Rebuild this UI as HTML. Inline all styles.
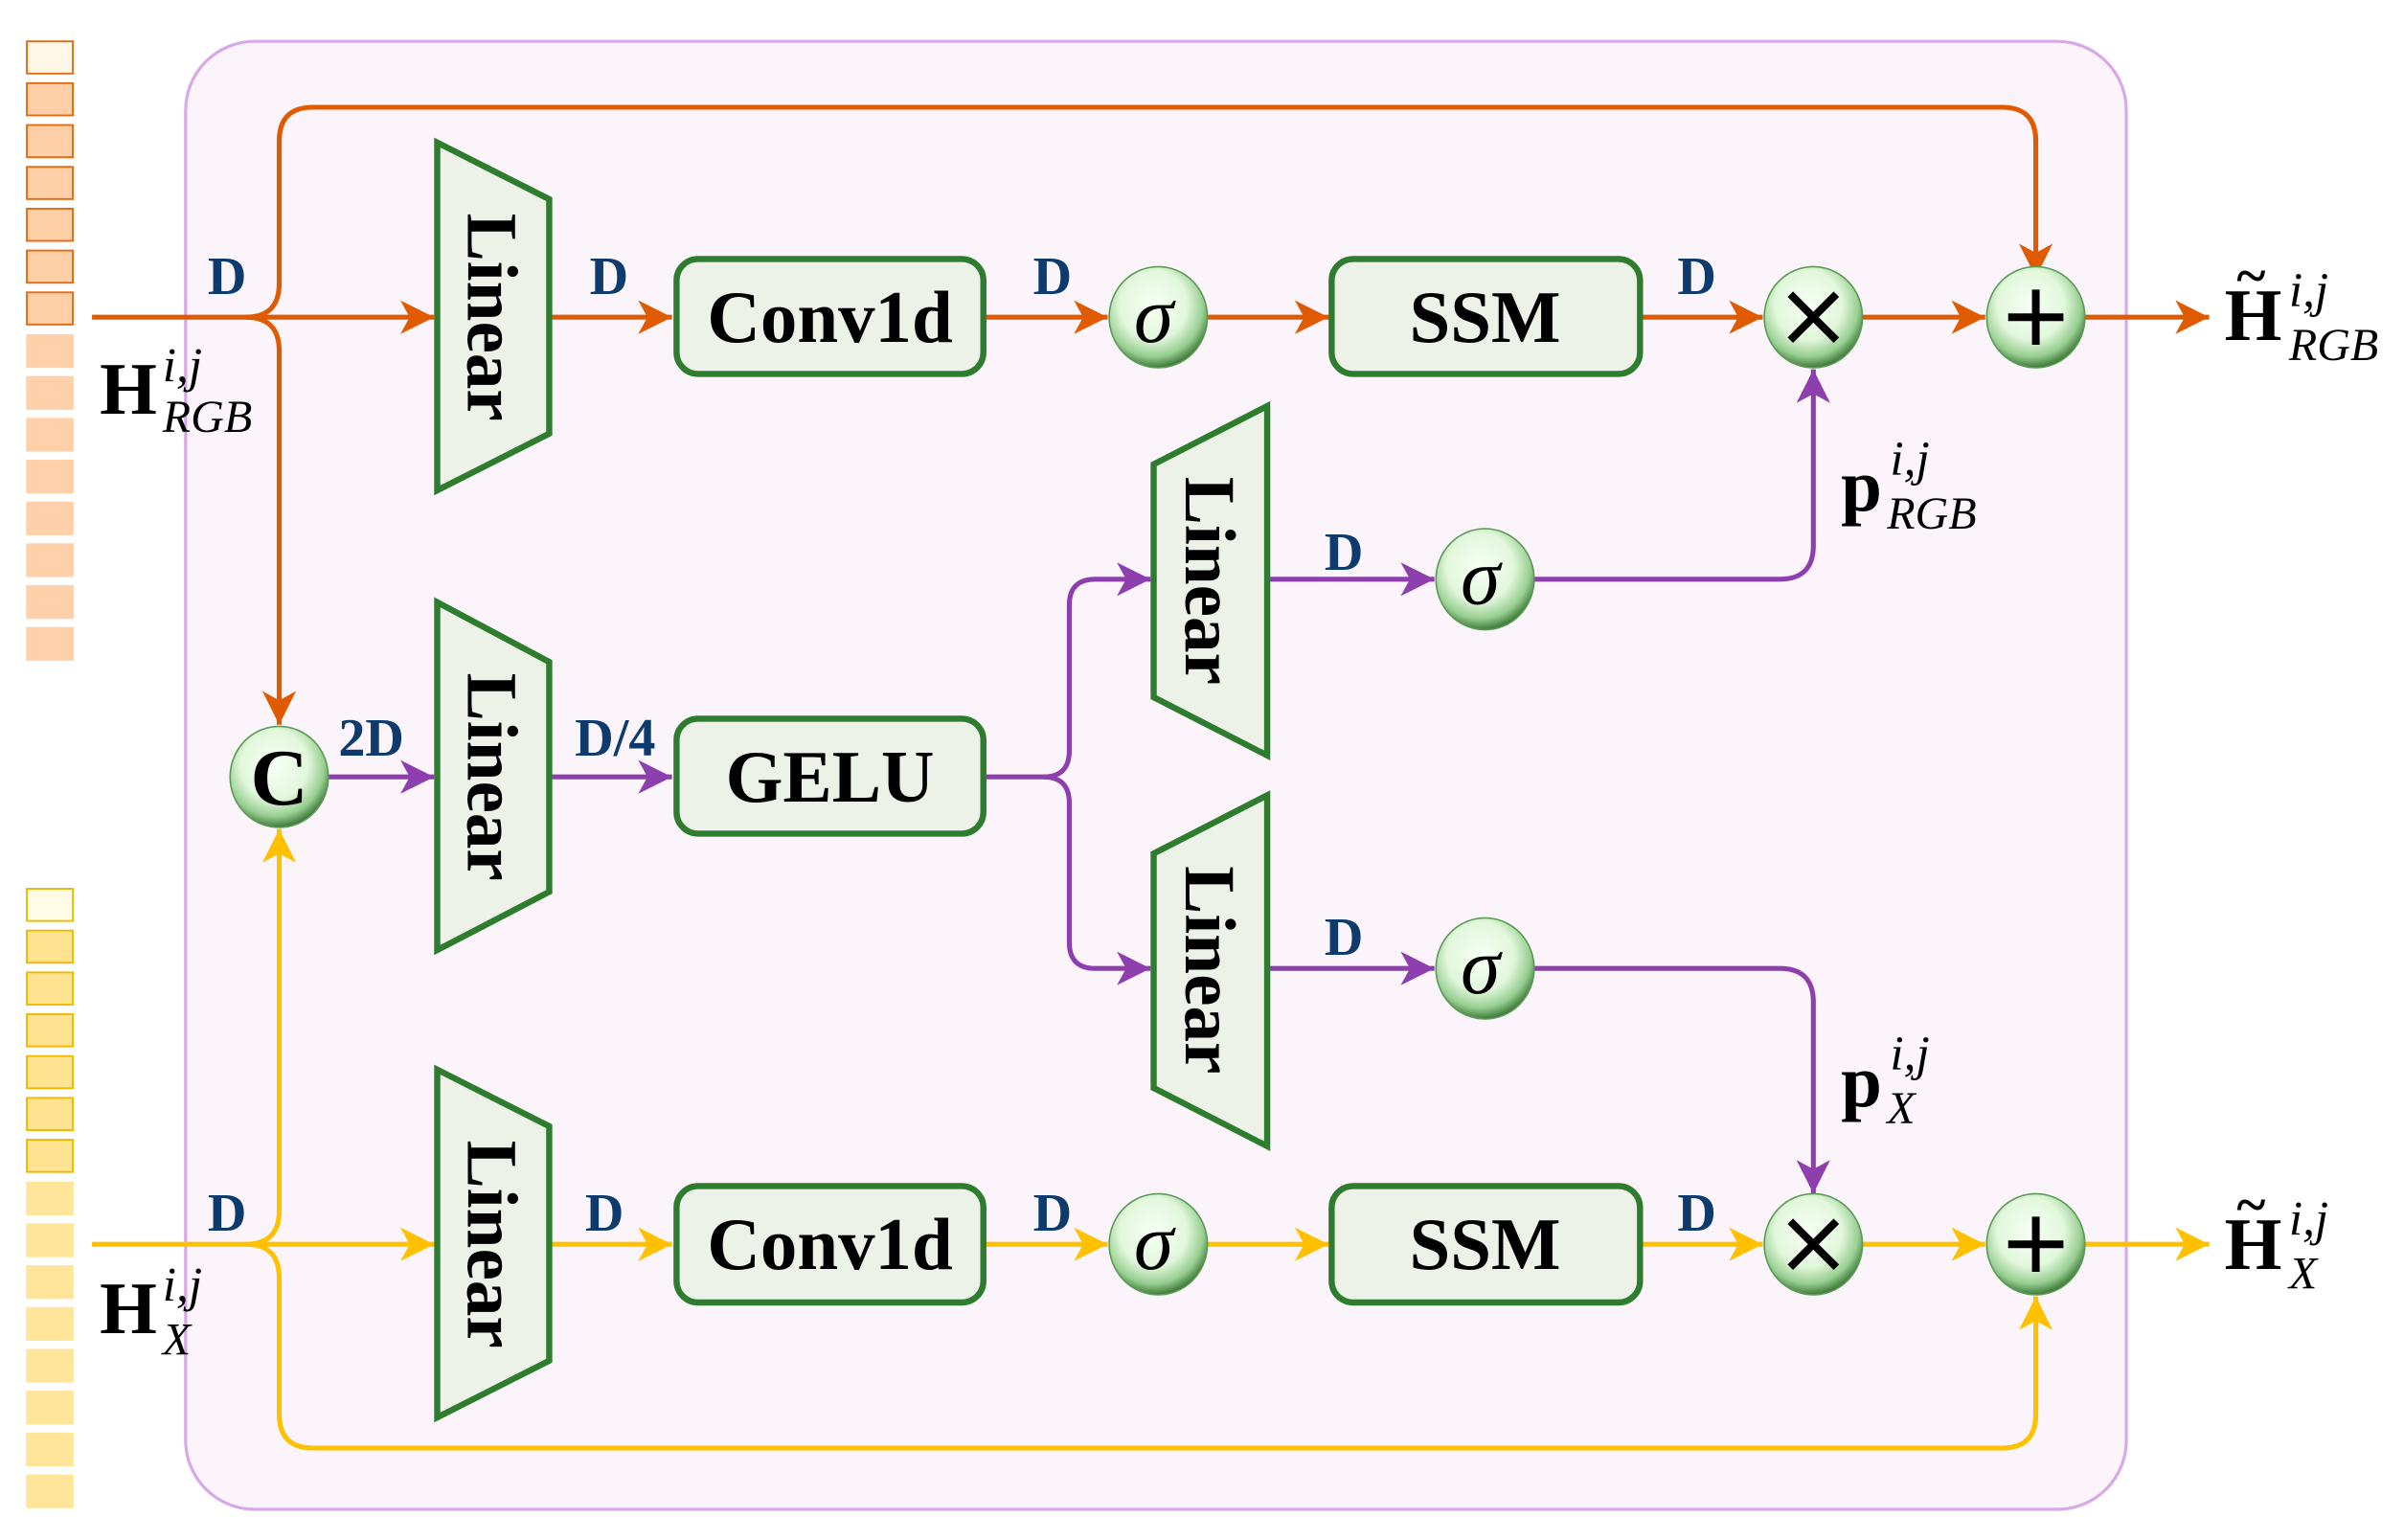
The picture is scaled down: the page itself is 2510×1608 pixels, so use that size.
<!DOCTYPE html>
<html><head><meta charset="utf-8"><style>
html,body{margin:0;padding:0;background:#fff;}
svg{display:block;}
text{font-family:"Liberation Serif",serif;}
</style></head><body>
<svg width="2510" height="1608" viewBox="0 0 1567 1005" preserveAspectRatio="none" xmlns="http://www.w3.org/2000/svg">
<defs>
<radialGradient id="cg" cx="0.45" cy="0.38" r="0.62">
<stop offset="0" stop-color="#f6fff4"/><stop offset="0.55" stop-color="#e2f7dc"/><stop offset="0.82" stop-color="#98cf92"/><stop offset="1" stop-color="#3e7a3a"/>
</radialGradient>
<marker id="ao" markerUnits="userSpaceOnUse" markerWidth="24" markerHeight="24" refX="22" refY="12" orient="auto"><path d="M0,1 L22,12 L0,23 L6,12 Z" fill="#e05a00"/></marker>
<marker id="ay" markerUnits="userSpaceOnUse" markerWidth="24" markerHeight="24" refX="22" refY="12" orient="auto"><path d="M0,1 L22,12 L0,23 L6,12 Z" fill="#ffc000"/></marker>
<marker id="ap" markerUnits="userSpaceOnUse" markerWidth="24" markerHeight="24" refX="22" refY="12" orient="auto"><path d="M0,1 L22,12 L0,23 L6,12 Z" fill="#8e3fae"/></marker>
</defs>
<rect x="0" y="0" width="1567" height="1005" fill="#fff"/>
<g>
<rect x="17.5" y="27" width="30" height="21" fill="#fff8e6" stroke="#e86a10" stroke-width="1.2"/>
<rect x="17.5" y="54.3" width="30" height="21" fill="#ffcfa8" stroke="#e86a10" stroke-width="1.2"/>
<rect x="17.5" y="81.6" width="30" height="21" fill="#ffcfa8" stroke="#e86a10" stroke-width="1.2"/>
<rect x="17.5" y="108.9" width="30" height="21" fill="#ffcfa8" stroke="#e86a10" stroke-width="1.2"/>
<rect x="17.5" y="136.2" width="30" height="21" fill="#ffcfa8" stroke="#e86a10" stroke-width="1.2"/>
<rect x="17.5" y="163.5" width="30" height="21" fill="#ffcfa8" stroke="#e86a10" stroke-width="1.2"/>
<rect x="17.5" y="190.8" width="30" height="21" fill="#ffcfa8" stroke="#e86a10" stroke-width="1.2"/>
<rect x="17" y="218.1" width="31" height="22" fill="#ffd0aa"/>
<rect x="17" y="245.4" width="31" height="22" fill="#ffd0aa"/>
<rect x="17" y="272.7" width="31" height="22" fill="#ffd0aa"/>
<rect x="17" y="300" width="31" height="22" fill="#ffd0aa"/>
<rect x="17" y="327.3" width="31" height="22" fill="#ffd0aa"/>
<rect x="17" y="354.6" width="31" height="22" fill="#ffd0aa"/>
<rect x="17" y="381.9" width="31" height="22" fill="#ffd0aa"/>
<rect x="17" y="409.2" width="31" height="22" fill="#ffd0aa"/>

<rect x="17.5" y="580" width="30" height="21" fill="#fffbe6" stroke="#f0b800" stroke-width="1.2"/>
<rect x="17.5" y="607.3" width="30" height="21" fill="#ffe391" stroke="#f0b800" stroke-width="1.2"/>
<rect x="17.5" y="634.6" width="30" height="21" fill="#ffe391" stroke="#f0b800" stroke-width="1.2"/>
<rect x="17.5" y="661.9" width="30" height="21" fill="#ffe391" stroke="#f0b800" stroke-width="1.2"/>
<rect x="17.5" y="689.2" width="30" height="21" fill="#ffe391" stroke="#f0b800" stroke-width="1.2"/>
<rect x="17.5" y="716.5" width="30" height="21" fill="#ffe391" stroke="#f0b800" stroke-width="1.2"/>
<rect x="17.5" y="743.8" width="30" height="21" fill="#ffe391" stroke="#f0b800" stroke-width="1.2"/>
<rect x="17" y="771.1" width="31" height="22" fill="#ffe59a"/>
<rect x="17" y="798.4" width="31" height="22" fill="#ffe59a"/>
<rect x="17" y="825.7" width="31" height="22" fill="#ffe59a"/>
<rect x="17" y="853" width="31" height="22" fill="#ffe59a"/>
<rect x="17" y="880.3" width="31" height="22" fill="#ffe59a"/>
<rect x="17" y="907.6" width="31" height="22" fill="#ffe59a"/>
<rect x="17" y="934.9" width="31" height="22" fill="#ffe59a"/>
<rect x="17" y="962.2" width="31" height="22" fill="#ffe59a"/>
</g>
<rect x="121" y="27" width="1265" height="958" rx="45" fill="#fbf5fb" stroke="#d9a8e8" stroke-width="2"/>

<g fill="none" stroke="#e05a00" stroke-width="3.2">
<path d="M60,207 L283,207" marker-end="url(#ao)"/>
<path d="M160,207 Q182,207 182,185 L182,92 Q182,70 204,70 L1305,70 Q1327,70 1327,92 L1327,181" marker-end="url(#ao)"/>
<path d="M160,207 Q182,207 182,229 L182,473" marker-end="url(#ao)"/>
<path d="M358,207 L438,207" marker-end="url(#ao)"/>
<path d="M642,207 L722,207" marker-end="url(#ao)"/>
<path d="M787,207 L866,207" marker-end="url(#ao)"/>
<path d="M1070,207 L1149,207" marker-end="url(#ao)"/>
<path d="M1214,207 L1294,207" marker-end="url(#ao)"/>
<path d="M1359,207 L1440,207" marker-end="url(#ao)"/>
</g>
<g fill="none" stroke="#ffc000" stroke-width="3.2">
<path d="M60,812 L283,812" marker-end="url(#ay)"/>
<path d="M160,812 Q182,812 182,790 L182,541" marker-end="url(#ay)"/>
<path d="M160,812 Q182,812 182,834 L182,923 Q182,945 204,945 L1305,945 Q1327,945 1327,923 L1327,846" marker-end="url(#ay)"/>
<path d="M358,812 L438,812" marker-end="url(#ay)"/>
<path d="M642,812 L722,812" marker-end="url(#ay)"/>
<path d="M787,812 L866,812" marker-end="url(#ay)"/>
<path d="M1070,812 L1149,812" marker-end="url(#ay)"/>
<path d="M1214,812 L1294,812" marker-end="url(#ay)"/>
<path d="M1359,812 L1440,812" marker-end="url(#ay)"/>
</g>
<g fill="none" stroke="#8e3fae" stroke-width="3.2">
<path d="M214,507 L283,507" marker-end="url(#ap)"/>
<path d="M358,507 L438,507" marker-end="url(#ap)"/>
<path d="M642,507 L680,507 Q697,507 697,490 L697,395 Q697,378 714,378 L750,378" marker-end="url(#ap)"/>
<path d="M680,507 Q697,507 697,524 L697,615 Q697,632 714,632 L750,632" marker-end="url(#ap)"/>
<path d="M826,378 L935,378" marker-end="url(#ap)"/>
<path d="M826,632 L935,632" marker-end="url(#ap)"/>
<path d="M1000,378 L1160,378 Q1182,378 1182,356 L1182,241" marker-end="url(#ap)"/>
<path d="M1000,632 L1160,632 Q1182,632 1182,654 L1182,779" marker-end="url(#ap)"/>
</g>

<g fill="#ecf2e8" stroke="#2e7d2e" stroke-width="4" stroke-linejoin="miter">
<path d="M285,93 L358,130 L358,283 L285,320 Z"/>
<path d="M285,393 L358,432 L358,582 L285,620 Z"/>
<path d="M285,698 L358,735 L358,888 L285,925 Z"/>
<path d="M826,265 L752,303 L752,455 L826,493 Z"/>
<path d="M826,519 L752,557 L752,710 L826,748 Z"/>
</g>
<g font-weight="bold" font-size="47" fill="#000" text-anchor="middle">
<text transform="translate(305,207) rotate(90)">Linear</text>
<text transform="translate(305,507) rotate(90)">Linear</text>
<text transform="translate(305,812) rotate(90)">Linear</text>
<text transform="translate(773,379) rotate(90)">Linear</text>
<text transform="translate(773,633) rotate(90)">Linear</text>
</g>
<g fill="#ecf2e8" stroke="#2e7d2e" stroke-width="4">
<rect x="441" y="169" width="200" height="75" rx="14"/>
<rect x="868" y="169" width="201" height="75" rx="14"/>
<rect x="441" y="469" width="200" height="75" rx="14"/>
<rect x="441" y="774" width="200" height="76" rx="14"/>
<rect x="868" y="774" width="201" height="76" rx="14"/>
</g>
<g font-weight="bold" font-size="48" fill="#000" text-anchor="middle">
<text x="541" y="223">Conv1d</text>
<text x="968" y="223">SSM</text>
<text x="541" y="523">GELU</text>
<text x="541" y="828">Conv1d</text>
<text x="968" y="828">SSM</text>
</g>
<g fill="url(#cg)" stroke="#5a9a55" stroke-width="1">
<ellipse cx="755" cy="207" rx="32" ry="33"/>
<ellipse cx="1182" cy="207" rx="32" ry="33"/>
<ellipse cx="1327" cy="207" rx="32" ry="33"/>
<ellipse cx="182" cy="507" rx="32" ry="33"/>
<ellipse cx="968" cy="378" rx="32" ry="33"/>
<ellipse cx="968" cy="632" rx="32" ry="33"/>
<ellipse cx="755" cy="812" rx="32" ry="33"/>
<ellipse cx="1182" cy="812" rx="32" ry="33"/>
<ellipse cx="1327" cy="812" rx="32" ry="33"/>
</g>
<g fill="#000" text-anchor="middle">
<text x="752" y="223" font-size="52" font-style="italic">σ</text>
<text x="965" y="394" font-size="52" font-style="italic">σ</text>
<text x="965" y="648" font-size="52" font-style="italic">σ</text>
<text x="752" y="828" font-size="52" font-style="italic">σ</text>
<text x="182" y="525" font-size="52" font-weight="bold">C</text>
</g>
<g stroke="#000" stroke-width="5" fill="none">
<path d="M1167,192 L1197,222 M1197,192 L1167,222"/>
<path d="M1167,797 L1197,827 M1197,797 L1167,827"/>
<path d="M1327,189 L1327,225 M1309,207 L1345,207"/>
<path d="M1327,794 L1327,830 M1309,812 L1345,812"/>
</g>
<g fill="#0d3b6e" font-weight="bold" font-size="35" text-anchor="middle">
<text x="148" y="192">D</text>
<text x="397" y="192">D</text>
<text x="686" y="192">D</text>
<text x="1106" y="192">D</text>
<text x="242" y="493">2D</text>
<text x="401" y="493">D/4</text>
<text x="876" y="372">D</text>
<text x="876" y="623">D</text>
<text x="148" y="803">D</text>
<text x="394" y="803">D</text>
<text x="686" y="803">D</text>
<text x="1106" y="803">D</text>
</g>
<g fill="#000">
<text x="65" y="270" font-size="48" font-weight="bold">H</text>
<text x="106" y="249" font-size="32" font-style="italic">i,j</text>
<text x="106" y="282" font-size="30" font-style="italic">RGB</text>
<text x="65" y="870" font-size="48" font-weight="bold">H</text>
<text x="106" y="849" font-size="32" font-style="italic">i,j</text>
<text x="106" y="884" font-size="30" font-style="italic">X</text>
<text x="1450" y="222" font-size="48" font-weight="bold">H</text>
<text x="1458" y="192" font-size="36" font-weight="bold">~</text>
<text x="1492" y="200" font-size="32" font-style="italic">i,j</text>
<text x="1492" y="235" font-size="30" font-style="italic">RGB</text>
<text x="1450" y="828" font-size="48" font-weight="bold">H</text>
<text x="1458" y="798" font-size="36" font-weight="bold">~</text>
<text x="1492" y="806" font-size="32" font-style="italic">i,j</text>
<text x="1492" y="841" font-size="30" font-style="italic">X</text>
<text x="1200" y="333" font-size="48" font-weight="bold">p</text>
<text x="1232" y="310" font-size="32" font-style="italic">i,j</text>
<text x="1230" y="345" font-size="30" font-style="italic">RGB</text>
<text x="1200" y="722" font-size="48" font-weight="bold">p</text>
<text x="1232" y="698" font-size="32" font-style="italic">i,j</text>
<text x="1230" y="733" font-size="30" font-style="italic">X</text>
</g>
</svg>
</body></html>
